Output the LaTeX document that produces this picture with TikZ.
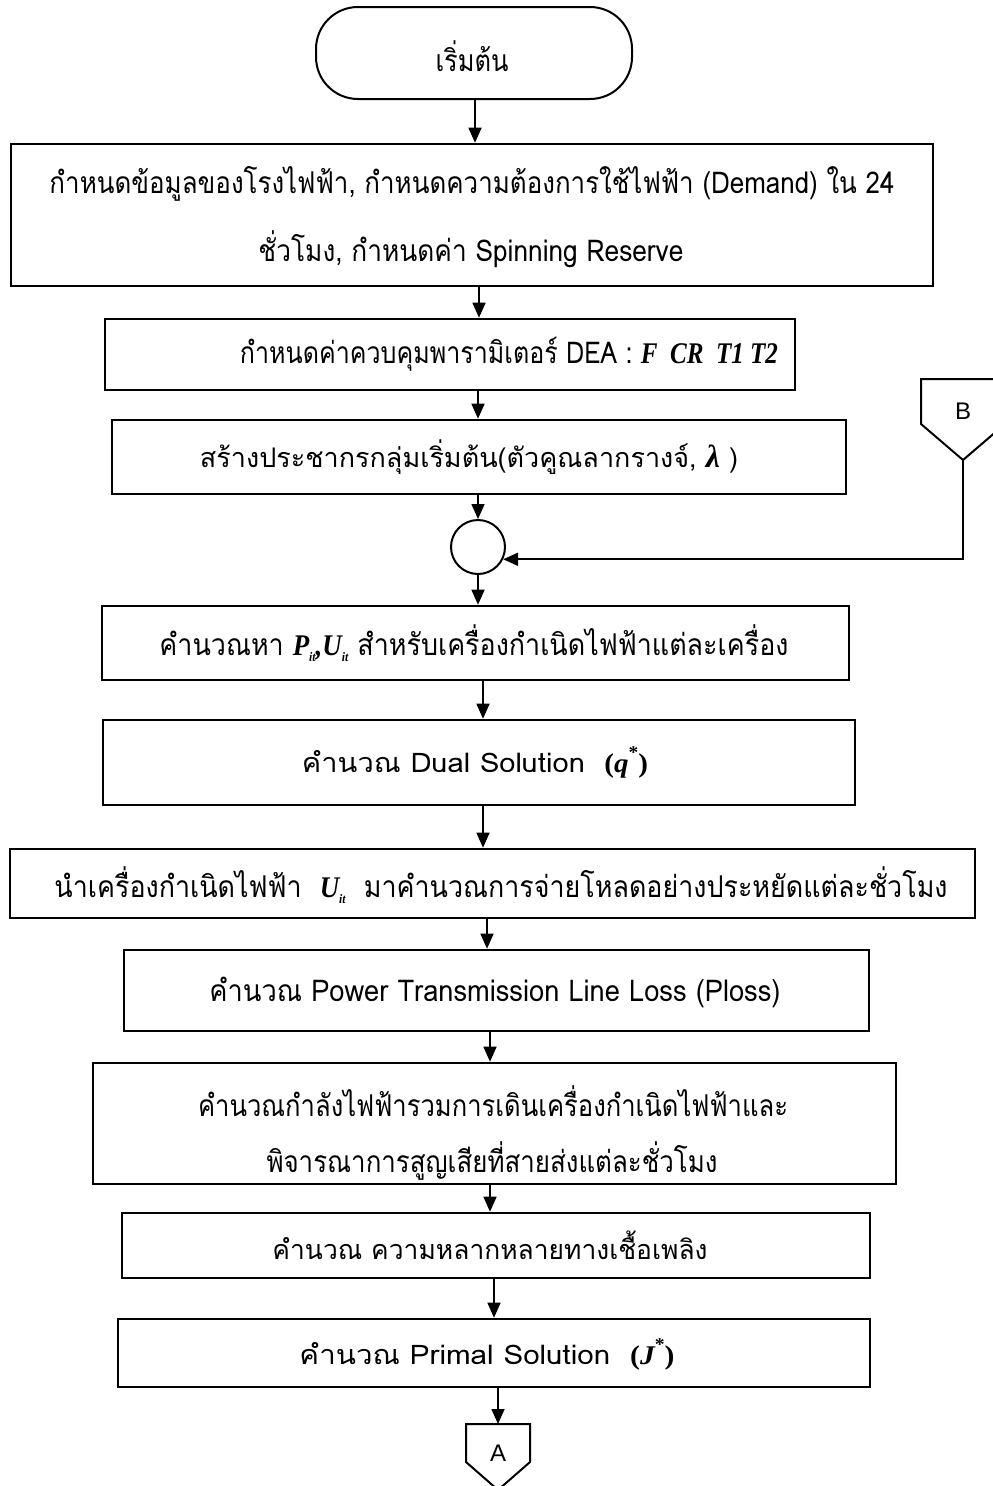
\RequirePackage{fix-cm}
\documentclass[tikz,border=0pt]{standalone}
\usepackage{fontspec}
\usepackage{graphicx}
\setmainfont{Loma}[Script=Thai]
\newfontfamily\tbiface{Liberation Serif}
\newcommand\tbi{\tbiface\bfseries\itshape}
\newcommand\tbu{\tbiface\bfseries}
\newfontfamily\lsans{Liberation Sans}
\usetikzlibrary{arrows.meta}
\newcommand\fw[2]{\resizebox{#1pt}{\height}{#2}}
\newcommand\sub[2]{{\tbi #1}\raisebox{-0.35ex}{\fontsize{13}{14}\selectfont\tbi #2}}
\newcommand\starred[1]{{\tbu(}{\tbi #1}\raisebox{1.0ex}{\fontsize{18}{20}\selectfont\tbu *}{\tbu)}}
\begin{document}
\begin{tikzpicture}[x=1pt,y=-1pt,
  box/.style={draw,line width=2.6pt,inner sep=0pt,minimum width=#1},
  txt/.style={inner sep=0pt,font=\fontsize{30}{34}\selectfont},
  ltxt/.style={inner sep=0pt,font=\fontsize{27}{31}\selectfont},
  lab/.style={inner sep=0pt,font=\lsans\fontsize{24}{27}\selectfont},
  arr/.style={line width=1.6pt,-{Triangle[length=15pt,width=13pt]}},
  conn/.style={line width=2pt,line join=miter}]
\useasboundingbox (0,0) rectangle (993,1486);
\clip (0,0) rectangle (993,1486);
% start
\node[draw,line width=2pt,rounded corners=42pt,minimum width=316pt,minimum height=92pt,inner sep=0pt] (term) at (474,53) {};
\node[txt] (tterm) at (472,56) {\fw{73}{เริ่มต้น}};
% box 1
\node[box=922pt,minimum height=142pt] (b1) at (472,215) {};
\node[txt] (t1a) at (472,184) {\fw{845}{กำหนดข้อมูลของโรงไฟฟ้า, กำหนดความต้องการใช้ไฟฟ้า (Demand) ใน 24}};
\node[txt] (t1b) at (471,249) {\fw{425}{ชั่วโมง, กำหนดค่า Spinning Reserve}};
% box 2
\node[box=690pt,minimum height=71pt] (b2) at (450,354.5) {};
\node[txt] (t2) at (509,354) {\fw{538}{กำหนดค่าควบคุมพารามิเตอร์ DEA : {\tbi F\ \ CR\ \ T1\ T2}}};
% box 3
\node[box=734pt,minimum height=74pt] (b3) at (479,457) {};
\node[ltxt] (t3) at (469,457) {\fw{538}{สร้างประชากรกลุ่มเริ่มต้น(ตัวคูณลากรางจ์, {\tbi\fontsize{32}{34}\selectfont λ} )}};
% junction circle
\node[draw,circle,line width=2pt,minimum size=54pt,inner sep=0pt] (cir) at (478,547) {};
% box 4
\node[box=747pt,minimum height=74pt] (b4) at (475.5,643) {};
\node[txt] (t4) at (474,643) {\fw{629}{คำนวณหา \sub{P}{it}{\tbi ,}\sub{U}{it}\ สำหรับเครื่องกำเนิดไฟฟ้าแต่ละเครื่อง}};
% box 5
\node[box=752pt,minimum height=85pt] (b5) at (479,762.5) {};
\node[ltxt] (t5) at (475,762) {\fw{346}{คำนวณ Dual Solution\ \ \starred{q}}};
% box 6
\node[box=965pt,minimum height=69pt] (b6) at (492.5,883.5) {};
\node[txt] (t6) at (501,885) {\fw{893}{นำเครื่องกำเนิดไฟฟ้า\ \ \sub{U}{it}\ \ มาคำนวณการจ่ายโหลดอย่างประหยัดแต่ละชั่วโมง}};
% box 7
\node[box=745pt,minimum height=81pt] (b7) at (496.5,990.5) {};
\node[txt] (t7) at (495,992) {\fw{571}{คำนวณ Power Transmission Line Loss (Ploss)}};
% box 8
\node[box=803pt,minimum height=121pt] (b8) at (494.5,1123.5) {};
\node[txt] (t8a) at (493,1101) {\fw{590}{คำนวณกำลังไฟฟ้ารวมการเดินเครื่องกำเนิดไฟฟ้าและ}};
\node[txt] (t8b) at (492,1161) {\fw{451}{พิจารณาการสูญเสียที่สายส่งแต่ละชั่วโมง}};
% box 9
\node[box=748pt,minimum height=65pt] (b9) at (496,1245.5) {};
\node[ltxt] (t9) at (490,1245) {\fw{435}{คำนวณ ความหลากหลายทางเชื้อเพลิง}};
% box 10
\node[box=752pt,minimum height=68pt] (b10) at (494,1353) {};
\node[ltxt] (t10) at (487,1354) {\fw{375}{คำนวณ Primal Solution\ \ \starred{J}}};
% off-page connector A
\draw[conn] (466,1424) -- (530,1424) -- (530,1462) -- (498,1490) -- (466,1462) -- cycle;
\coordinate (Atop) at (498,1424);
\node[lab] (Alab) at (498,1453) {A};
% off-page connector B
\draw[conn] (921,379) -- (1005,379) -- (1005,424) -- (963,460) -- (921,424) -- cycle;
\coordinate (Btip) at (963,460);
\node[lab] (Blab) at (963,411) {B};
% arrow x positions
\coordinate (x1) at (475,0);
\coordinate (x2) at (479,0);
\coordinate (x3) at (478,0);
\coordinate (x4) at (483,0);
\coordinate (x5) at (487,0);
\coordinate (x6) at (490,0);
\coordinate (x7) at (494,0);
\coordinate (x8) at (498,0);
% connectors
\draw[arr] (term.south -| x1) -- (b1.north -| x1);
\draw[arr] (b1.south -| x2) -- (b2.north -| x2);
\draw[arr] (b2.south -| x3) -- (b3.north -| x3);
\draw[arr] (b3.south -| x3) -- (cir.north);
\draw[arr] (cir.south) -- (b4.north -| x3);
\draw[arr] (b4.south -| x4) -- (b5.north -| x4);
\draw[arr] (b5.south -| x4) -- (b6.north -| x4);
\draw[arr] (b6.south -| x5) -- (b7.north -| x5);
\draw[arr] (b7.south -| x6) -- (b8.north -| x6);
\draw[arr] (b8.south -| x6) -- (b9.north -| x6);
\draw[arr] (b9.south -| x7) -- (b10.north -| x7);
\draw[arr] (b10.south -| x8) -- (Atop);
\draw[arr,line width=2pt] (Btip) |- (cir.-26);
\end{tikzpicture}
\end{document}
